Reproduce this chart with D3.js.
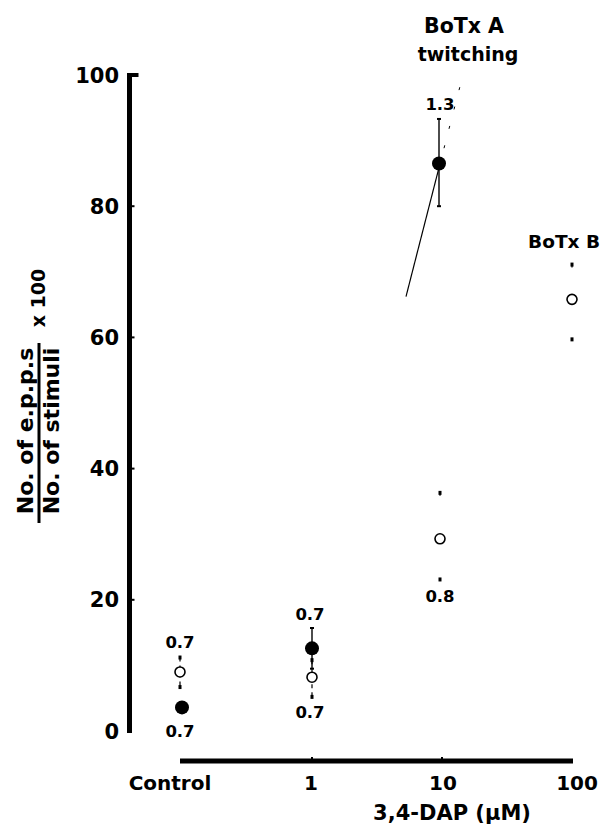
<!DOCTYPE html>
<html><head><meta charset="utf-8">
<script src="https://cdn.jsdelivr.net/npm/d3@7"></script>
<style>
html,body{margin:0;padding:0;background:#fff;}
svg{display:block;}
text{font-family:"DejaVu Sans",sans-serif;font-weight:bold;fill:#000;}
</style></head>
<body>
<script>
// ---- data ----
const categories = ["Control", "1", "10", "100"];
const yTicks = [0, 20, 40, 60, 80, 100];

// BoTx A (filled circles)
const botxACats = ["Control", "1", "10"];
const botxAValues = [3.6, 12.6, 86.5];
const botxAErrUp = [0, 3.1, 6.8];
const botxAErrDown = [0, 3.1, 6.5];

// BoTx B (open circles)
const botxBCats = ["Control", "1", "10", "100"];
const botxBValues = [9.0, 8.2, 29.3, 65.8];
const botxBErrUp = [2.2, 2.6, 7.0, 5.3];
const botxBErrDown = [2.3, 3.0, 6.2, 6.1];

// numeric annotations next to points
const noteCats = ["Control", "Control", "1", "1", "10", "10"];
const noteTexts = ["0.7", "0.7", "0.7", "0.7", "1.3", "0.8"];
const noteValues = [12.65, -0.9, 16.9, 2.0, 94.7, 19.7];

const xTitle = "3,4-DAP (\u00b5M)";
const yTitleTop = "No. of e.p.p.s";
const yTitleBottom = "No. of stimuli";
const yTitleFactor = "x 100";

// ---- drawing ----
const W = 604, H = 831;
const svg = d3.select("body").append("svg").attr("width", W).attr("height", H);
svg.append("rect").attr("width", W).attr("height", H).attr("fill", "#fff");

const x = d3.scalePoint().domain(categories).range([182, 572]);
const y = d3.scaleLinear().domain([0, 100]).range([731, 75]);

// y axis
const yAxisX = 129.5;
svg.append("line").attr("x1", yAxisX).attr("x2", yAxisX)
  .attr("y1", y(100) - 2).attr("y2", y(0) + 2)
  .attr("stroke", "#000").attr("stroke-width", 5);
svg.append("line").attr("x1", yAxisX - 2.5).attr("x2", yAxisX + 9)
  .attr("y1", y(100)).attr("y2", y(100))
  .attr("stroke", "#000").attr("stroke-width", 4);
svg.selectAll(".ytick").data(yTicks.filter(d => d > 0 && d < 100)).enter().append("line")
  .attr("x1", yAxisX).attr("x2", yAxisX + 5)
  .attr("y1", d => y(d)).attr("y2", d => y(d))
  .attr("stroke", "#000").attr("stroke-width", 2);
svg.selectAll(".ylab").data(yTicks).enter().append("text")
  .attr("x", 119).attr("y", d => y(d)).attr("dy", "0.36em")
  .attr("text-anchor", "end").attr("font-size", 21)
  .text(d => d);

// x axis
const xAxisY = 761;
svg.append("line").attr("x1", x("Control") - 2).attr("x2", x("100") + 1)
  .attr("y1", xAxisY).attr("y2", xAxisY)
  .attr("stroke", "#000").attr("stroke-width", 5);
svg.selectAll(".xtick").data(["1", "10"]).enter().append("line")
  .attr("x1", d => x(d)).attr("x2", d => x(d))
  .attr("y1", xAxisY).attr("y2", xAxisY - 4)
  .attr("stroke", "#000").attr("stroke-width", 2);
const xLabelDx = {"Control": -12, "1": -1, "10": 1, "100": 5};
svg.selectAll(".xlab").data(categories).enter().append("text")
  .attr("x", d => x(d) + xLabelDx[d]).attr("y", 790)
  .attr("text-anchor", "middle").attr("font-size", 20)
  .text(d => d);
svg.append("text").attr("x", 452).attr("y", 820)
  .attr("text-anchor", "middle").attr("font-size", 21)
  .text(xTitle);

// y title (fraction)
const yt = svg.append("g").attr("transform", "translate(0,431) rotate(-90)");
yt.append("text").attr("x", 0).attr("y", 33).attr("text-anchor", "middle")
  .attr("font-size", 22).text(yTitleTop);
yt.append("text").attr("x", 0).attr("y", 59).attr("text-anchor", "middle")
  .attr("font-size", 22).text(yTitleBottom);
yt.append("line").attr("x1", -92).attr("x2", 88).attr("y1", 39).attr("y2", 39)
  .attr("stroke", "#000").attr("stroke-width", 3);
yt.append("text").attr("x", 133).attr("y", 45).attr("text-anchor", "middle")
  .attr("font-size", 19).text(yTitleFactor);

// leader line from "twitching" to BoTx A point at 10
const px = x("10") - 3, pv = botxAValues[2];
svg.append("line")
  .attr("x1", px - 33).attr("y1", y(pv) + 133)
  .attr("x2", px).attr("y2", y(pv) + 4)
  .attr("stroke", "#000").attr("stroke-width", 1.2);
svg.append("line")
  .attr("x1", px).attr("y1", y(pv) + 4)
  .attr("x2", px + 23).attr("y2", y(pv) - 85)
  .attr("stroke", "#000").attr("stroke-width", 1)
  .attr("stroke-dasharray", "3,17");

// BoTx B error bars (faint / dotted) and open circles
const bData = botxBCats.map((c, i) => ({c, v: botxBValues[i], up: botxBErrUp[i], dn: botxBErrDown[i]}));
const bg = svg.append("g");
bData.forEach(d => {
  const cx = x(d.c) - (d.c === "10" ? 2 : 0) - (d.c === "Control" ? 2 : 0);
  bg.append("line").attr("x1", cx).attr("x2", cx)
    .attr("y1", y(d.v + d.up)).attr("y2", y(d.v - d.dn))
    .attr("stroke", "#000").attr("stroke-width", 1.2)
    .attr("stroke-dasharray", d.c === "10" || d.c === "100" ? "3,200" : "4,4");
  [d.v + d.up, d.v - d.dn].forEach(e => {
    bg.append("rect").attr("x", cx - 1.5).attr("y", y(e) - 2)
      .attr("width", 3).attr("height", 4).attr("fill", "#000");
  });
  bg.append("circle").attr("cx", cx).attr("cy", y(d.v)).attr("r", 5)
    .attr("fill", "#fff").attr("stroke", "#000").attr("stroke-width", 1.6);
});

// BoTx A error bars and filled circles
const aData = botxACats.map((c, i) => ({c, v: botxAValues[i], up: botxAErrUp[i], dn: botxAErrDown[i]}));
const ag = svg.append("g");
aData.forEach(d => {
  const cx = x(d.c) - (d.c === "10" ? 3 : 0);
  if (d.up > 0) {
    ag.append("line").attr("x1", cx).attr("x2", cx)
      .attr("y1", y(d.v + d.up)).attr("y2", y(d.v - d.dn))
      .attr("stroke", "#000").attr("stroke-width", 1.4);
    [d.v + d.up, d.v - d.dn].forEach(e => {
      ag.append("line").attr("x1", cx - 2).attr("x2", cx + 2)
        .attr("y1", y(e)).attr("y2", y(e))
        .attr("stroke", "#000").attr("stroke-width", 2);
    });
  }
  ag.append("circle").attr("cx", cx).attr("cy", y(d.v)).attr("r", 7).attr("fill", "#000");
});

// numeric notes
svg.selectAll(".note").data(noteCats.map((c, i) => ({c, t: noteTexts[i], v: noteValues[i]})))
  .enter().append("text")
  .attr("x", d => x(d.c) - 2).attr("y", d => y(d.v))
  .attr("text-anchor", "middle").attr("font-size", 16.5)
  .text(d => d.t);

// series labels
svg.append("text").attr("x", x("10") + 22).attr("y", y(106.4))
  .attr("text-anchor", "middle").attr("font-size", 20.5).text("BoTx A");
svg.append("text").attr("x", x("10") + 26).attr("y", y(102.1))
  .attr("text-anchor", "middle").attr("font-size", 19).text("twitching");
svg.append("text").attr("x", 600).attr("y", y(73.6))
  .attr("text-anchor", "end").attr("font-size", 18.5).text("BoTx B");
</script>
</body></html>
